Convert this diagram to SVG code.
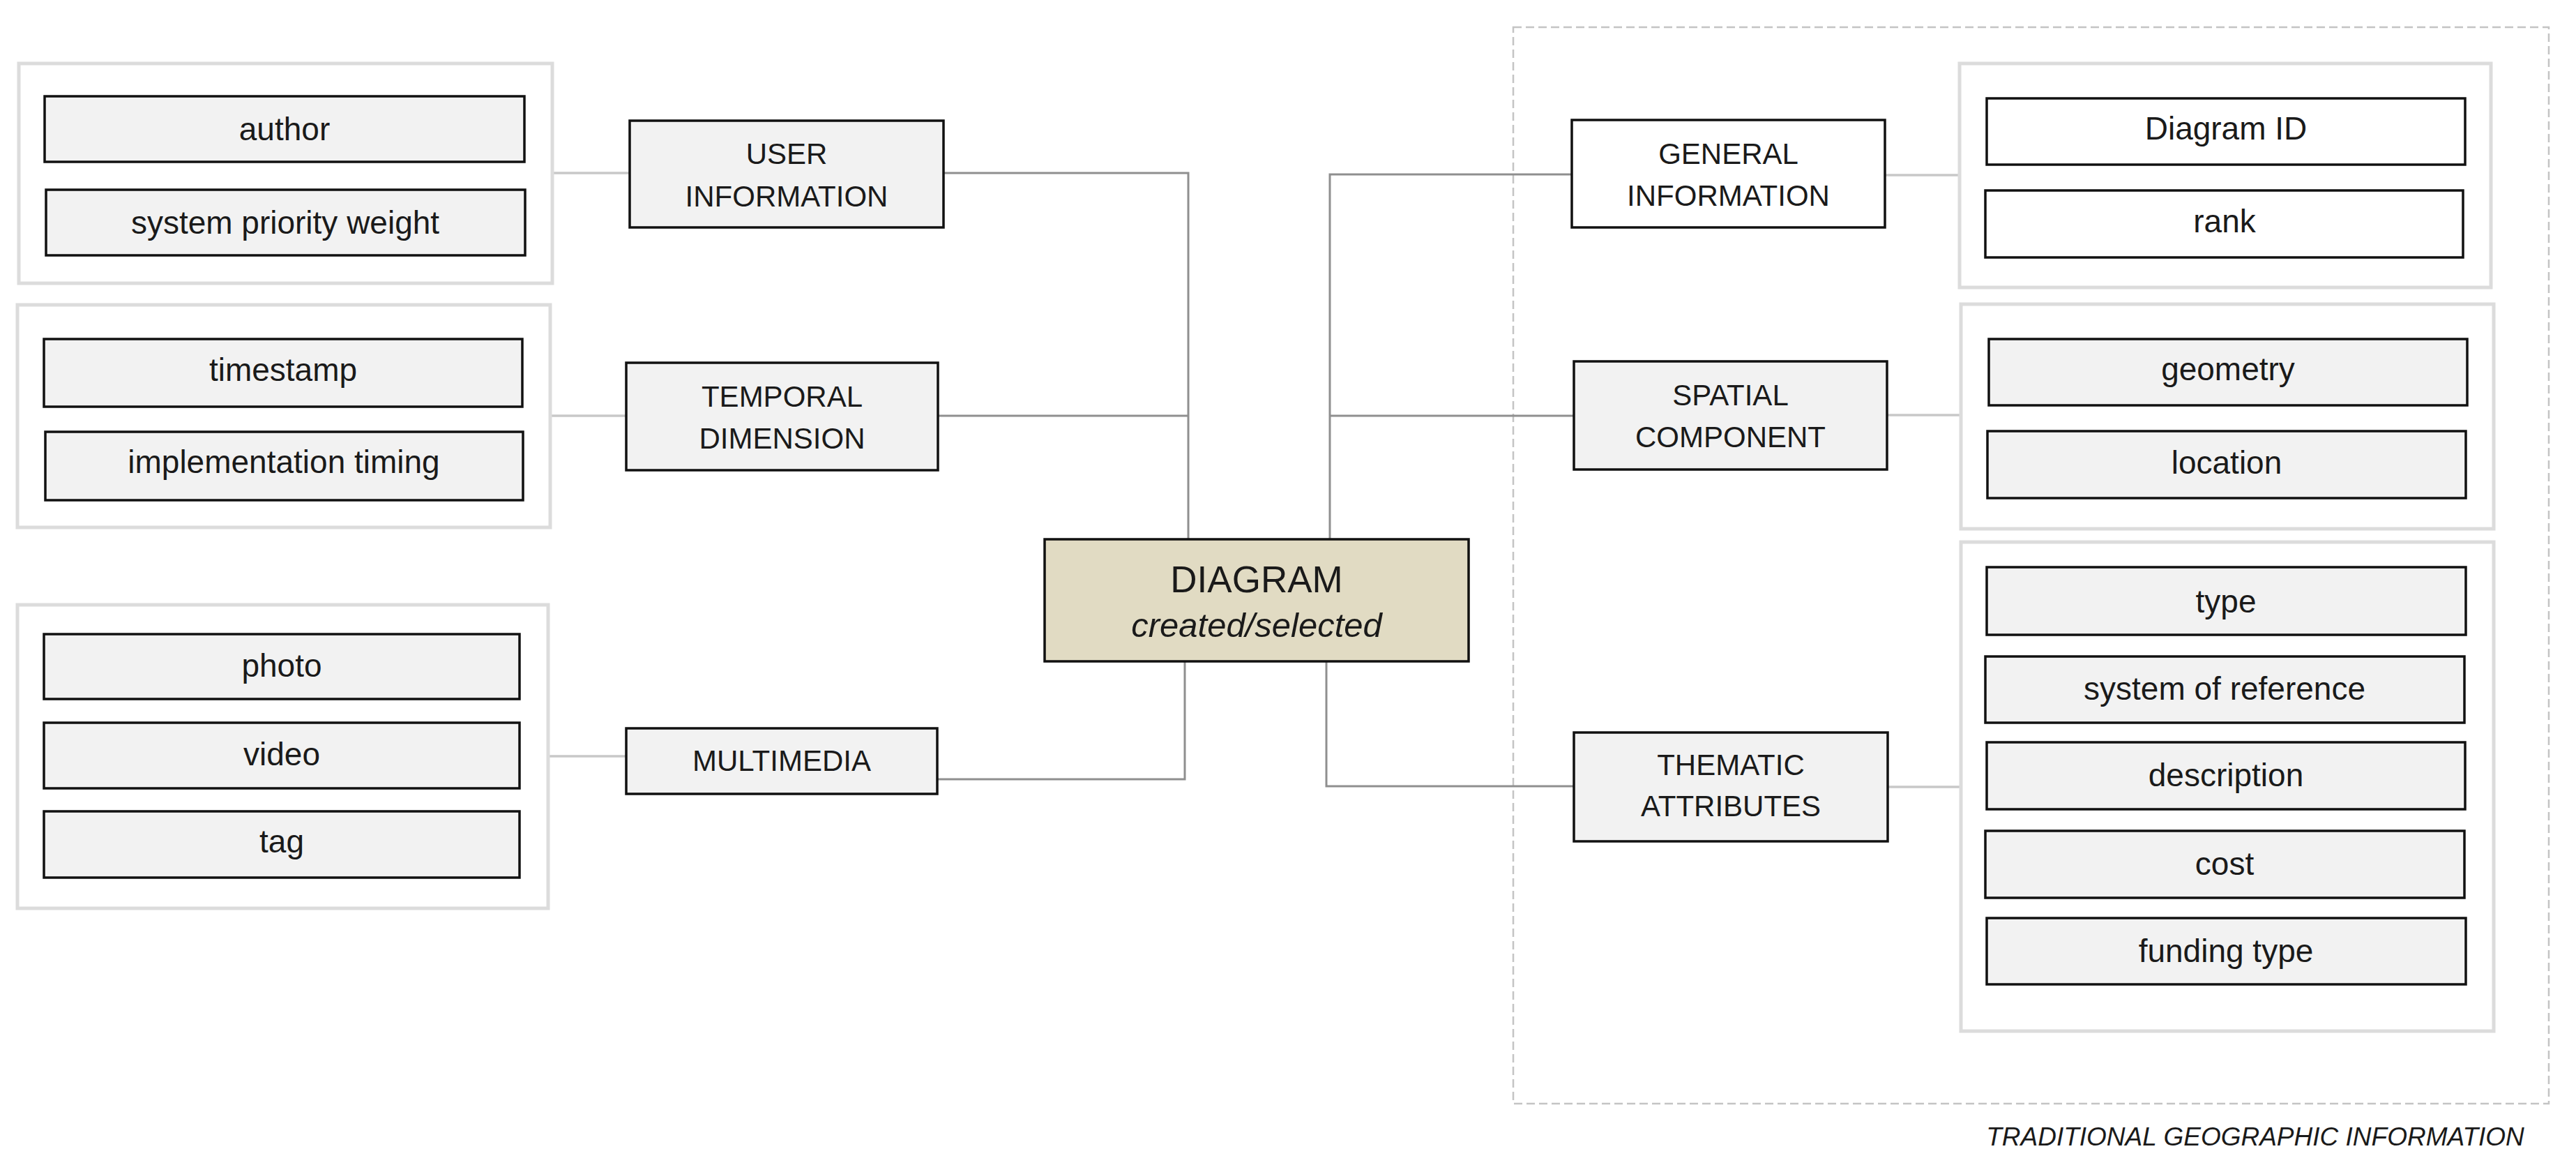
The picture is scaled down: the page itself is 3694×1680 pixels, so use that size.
<svg xmlns="http://www.w3.org/2000/svg" width="3694" height="1680" viewBox="0 0 3694 1680">
<style>
.grp{fill:#fff;stroke:#dcdcdc;stroke-width:5}
.box{fill:#f2f2f2;stroke:#111;stroke-width:3.5}
.wbox{fill:#fff;stroke:#111;stroke-width:3.5}
.main{fill:#e1dbc3;stroke:#111;stroke-width:3.5}
.conn{fill:none;stroke:#8f8f8f;stroke-width:3}
.lconn{fill:none;stroke:#c8c8c8;stroke-width:3.5}
.frame{fill:none;stroke:#c4c4c4;stroke-width:2.5;stroke-dasharray:12 6}
text{font-family:"Liberation Sans",Arial,sans-serif;fill:#1a1a1a;text-anchor:middle}
.lc{font-size:46px}
.uc{font-size:42px}
.big{font-size:53px}
.it{font-size:49px;font-style:italic}
.foot{font-size:37px;font-style:italic}
</style>
<rect width="3694" height="1680" fill="#fff"/>
<rect id="traditional-frame" class="frame" x="2170" y="39" width="1485" height="1543"/>
<text class="foot" x="3234" y="1642">TRADITIONAL GEOGRAPHIC INFORMATION</text>

<g id="connectors">
  <polyline class="conn" points="1353,248 1704,248 1704,773"/>
  <line class="conn" x1="1345" y1="596" x2="1704" y2="596"/>
  <polyline class="conn" points="1344,1117 1699,1117 1699,948"/>
  <polyline class="conn" points="1907,773 1907,250 2254,250"/>
  <line class="conn" x1="1907" y1="596" x2="2257" y2="596"/>
  <polyline class="conn" points="1902,948 1902,1127 2257,1127"/>
  <line class="lconn" x1="792" y1="248" x2="903" y2="248"/>
  <line class="lconn" x1="789" y1="596" x2="898" y2="596"/>
  <line class="lconn" x1="786" y1="1084" x2="898" y2="1084"/>
  <line class="lconn" x1="2703" y1="251" x2="2810" y2="251"/>
  <line class="lconn" x1="2706" y1="595" x2="2812" y2="595"/>
  <line class="lconn" x1="2707" y1="1128" x2="2812" y2="1128"/>
</g>

<g id="user-attributes">
  <rect class="grp" x="27" y="91" width="765" height="315"/>
  <g id="author"><rect class="box" x="64" y="138" width="688" height="94"/><text class="lc" x="408" y="201">author</text></g>
  <g id="system-priority-weight"><rect class="box" x="66" y="272" width="687" height="94"/><text class="lc" x="409" y="335">system priority weight</text></g>
</g>
<g id="temporal-attributes">
  <rect class="grp" x="25" y="437" width="764" height="319"/>
  <g id="timestamp"><rect class="box" x="63" y="486" width="686" height="97"/><text class="lc" x="406" y="546">timestamp</text></g>
  <g id="implementation-timing"><rect class="box" x="65" y="619" width="685" height="98"/><text class="lc" x="407" y="678">implementation timing</text></g>
</g>
<g id="multimedia-attributes">
  <rect class="grp" x="25" y="867" width="761" height="435"/>
  <g id="photo"><rect class="box" x="63" y="909" width="682" height="93"/><text class="lc" x="404" y="970">photo</text></g>
  <g id="video"><rect class="box" x="63" y="1036" width="682" height="94"/><text class="lc" x="404" y="1097">video</text></g>
  <g id="tag"><rect class="box" x="63" y="1163" width="682" height="95"/><text class="lc" x="404" y="1222">tag</text></g>
</g>

<g id="user-information"><rect class="box" x="903" y="173" width="450" height="153"/><text class="uc" x="1128" y="235">USER</text><text class="uc" x="1128" y="295.5">INFORMATION</text></g>
<g id="temporal-dimension"><rect class="box" x="898" y="520" width="447" height="154"/><text class="uc" x="1121.5" y="583">TEMPORAL</text><text class="uc" x="1121.5" y="642.5">DIMENSION</text></g>
<g id="multimedia"><rect class="box" x="898" y="1044" width="446" height="94"/><text class="uc" x="1121" y="1105">MULTIMEDIA</text></g>

<g id="diagram"><rect class="main" x="1498" y="773" width="608" height="175"/><text class="big" x="1802" y="848.5">DIAGRAM</text><text class="it" x="1802" y="913">created/selected</text></g>

<g id="general-information"><rect class="wbox" x="2254" y="172" width="449" height="154"/><text class="uc" x="2478.5" y="234.5">GENERAL</text><text class="uc" x="2478.5" y="295">INFORMATION</text></g>
<g id="spatial-component"><rect class="box" x="2257" y="518" width="449" height="155"/><text class="uc" x="2481.5" y="581">SPATIAL</text><text class="uc" x="2481.5" y="641">COMPONENT</text></g>
<g id="thematic-attributes"><rect class="box" x="2257" y="1050" width="450" height="156"/><text class="uc" x="2482" y="1110.5">THEMATIC</text><text class="uc" x="2482" y="1170">ATTRIBUTES</text></g>

<g id="general-attributes">
  <rect class="grp" x="2810" y="91" width="762" height="321"/>
  <g id="diagram-id"><rect class="wbox" x="2849" y="141" width="686" height="95"/><text class="lc" x="3192" y="200">Diagram ID</text></g>
  <g id="rank"><rect class="wbox" x="2847" y="273" width="685" height="96"/><text class="lc" x="3190" y="333">rank</text></g>
</g>
<g id="spatial-attributes">
  <rect class="grp" x="2812" y="436" width="764" height="322"/>
  <g id="geometry"><rect class="box" x="2852" y="486" width="686" height="95"/><text class="lc" x="3195" y="545">geometry</text></g>
  <g id="location"><rect class="box" x="2850" y="618" width="686" height="96"/><text class="lc" x="3193" y="679">location</text></g>
</g>
<g id="thematic-attributes-list">
  <rect class="grp" x="2812" y="777" width="764" height="701"/>
  <g id="type"><rect class="box" x="2849" y="813" width="687" height="97"/><text class="lc" x="3192" y="877.5">type</text></g>
  <g id="system-of-reference"><rect class="box" x="2847" y="941" width="687" height="95"/><text class="lc" x="3190" y="1003">system of reference</text></g>
  <g id="description"><rect class="box" x="2849" y="1064" width="686" height="96"/><text class="lc" x="3192" y="1127">description</text></g>
  <g id="cost"><rect class="box" x="2847" y="1191" width="687" height="96"/><text class="lc" x="3190" y="1253.5">cost</text></g>
  <g id="funding-type"><rect class="box" x="2849" y="1316" width="687" height="95"/><text class="lc" x="3192" y="1379">funding type</text></g>
</g>
</svg>
